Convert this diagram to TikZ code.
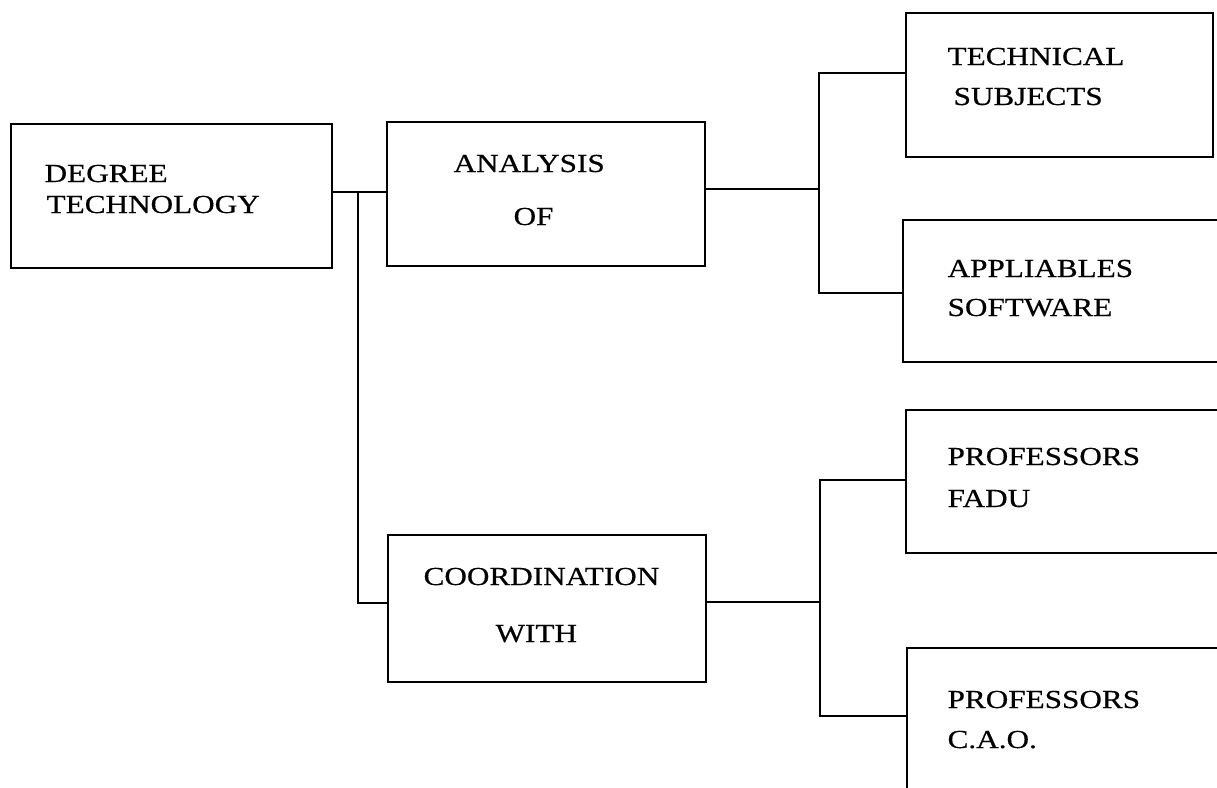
\documentclass[tikz,border=0pt]{standalone}
\usepackage{fontspec}
\newfontfamily\boxfont[FakeStretch=1.2, FakeBold=0.5]{Liberation Serif}

\begin{document}
\begin{tikzpicture}[x=1pt, y=-1pt, line width=1.2pt,
  blk/.style={draw, line width=1.7pt, inner sep=0pt, outer sep=0pt},
  lbl/.style={font=\boxfont\fontsize{26}{31}\selectfont, anchor=base west, inner sep=0pt}]

\clip (0, 0) rectangle (1217, 787);

\node [blk, minimum width=321, minimum height=144] (degree) at (171.5, 196) {};
\node [blk, minimum width=318, minimum height=144] (analysis) at (546, 194) {};
\node [blk, minimum width=318, minimum height=147] (coordination) at (547, 608.5) {};
\node [blk, minimum width=307, minimum height=144] (technical) at (1059.5, 85) {};
\node [blk, minimum width=337, minimum height=142] (appliables) at (1071.5, 291) {};
\node [blk, minimum width=334, minimum height=143] (fadu) at (1073, 481.5) {};
\node [blk, minimum width=333, minimum height=162] (cao) at (1073.5, 729) {};

\node [lbl] (degree1) at (44, 182) {DEGREE};
\node [lbl] (degree2) at (46, 213) {TECHNOLOGY};
\node [lbl] (analysis1) at (453, 172) {ANALYSIS};
\node [lbl] (analysis2) at (513, 225) {OF};
\node [lbl] (coordination1) at (423, 585) {COORDINATION};
\node [lbl] (coordination2) at (495, 642) {WITH};
\node [lbl] (technical1) at (947, 65) {TECHNICAL};
\node [lbl] (technical2) at (953, 105) {SUBJECTS};
\node [lbl] (appliables1) at (947, 277) {APPLIABLES};
\node [lbl] (appliables2) at (947, 316) {SOFTWARE};
\node [lbl] (fadu1) at (947, 465) {PROFESSORS};
\node [lbl] (fadu2) at (947, 507) {FADU};
\node [lbl] (cao1) at (947, 708) {PROFESSORS};
\node [lbl] (cao2) at (947, 748) {C.A.O.};

\coordinate (j1) at (358, 192);
\coordinate (j2) at (358, 603);
\coordinate (a0) at (819, 189);
\coordinate (a1) at (819, 73);
\coordinate (a2) at (819, 293);
\coordinate (c0) at (820, 602);
\coordinate (c1) at (820, 480);
\coordinate (c2) at (820, 716);

\draw (degree.east |- j1) -- (j1 -| analysis.west);
\draw (j1) -- (j2) -- (j2 -| coordination.west);
\draw (analysis.east |- a0) -- (a0);
\draw (a1 -| technical.west) -- (a1) -- (a2) -- (a2 -| appliables.west);
\draw (coordination.east |- c0) -- (c0);
\draw (c1 -| fadu.west) -- (c1) -- (c2) -- (c2 -| cao.west);

\end{tikzpicture}
\end{document}
